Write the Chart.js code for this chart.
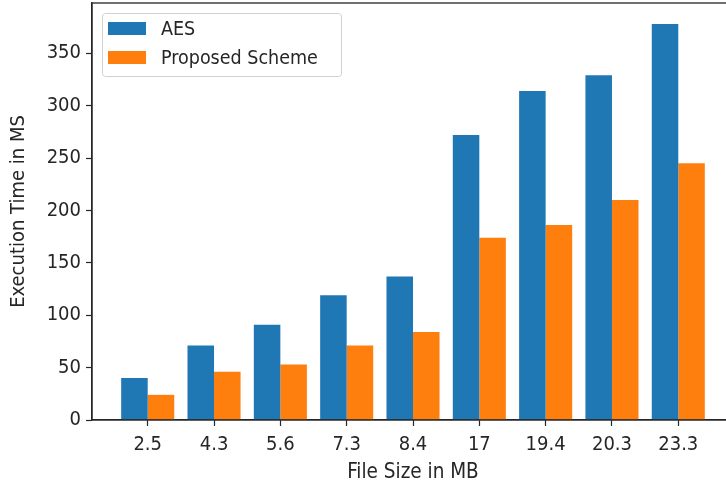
<!DOCTYPE html>
<html>
<head>
<meta charset="utf-8">
<script src="https://cdn.jsdelivr.net/npm/chart.js@4/dist/chart.umd.min.js"></script>
<style>
  html, body { margin: 0; padding: 0; background: #fff; }
  #wrap { width: 726px; height: 483px; overflow: hidden; }
</style>
</head>
<body>
<div id="wrap"><canvas id="myChart" width="740" height="483"></canvas></div>
<script>
const fileSizes = ["2.5", "4.3", "5.6", "7.3", "8.4", "17", "19.4", "20.3", "23.3"];
const aesTimes = [40, 71, 91, 119, 137, 272, 314, 329, 378];
const proposedTimes = [24, 46, 53, 71, 84, 174, 186, 210, 245];
const yTicks = [0, 50, 100, 150, 200, 250, 300, 350];

const ink = "#262626";
const family = "'DejaVu Sans Condensed', 'DejaVu Sans', sans-serif";
const font = { family: family, size: 20 };

// matplotlib-like frame plus a legend box in the upper left of the plot
const framePlugin = {
  id: "frame",
  afterDraw(chart) {
    const ctx = chart.ctx;
    const area = chart.chartArea;
    ctx.save();
    ctx.strokeStyle = ink;
    ctx.lineWidth = 1.3;
    ctx.strokeRect(area.left, area.top, area.right - area.left, area.bottom - area.top);

    const bx = area.left + 10, by = area.top + 10;
    ctx.beginPath();
    ctx.roundRect(bx + 0.5, by + 0.5, 239, 63, 3);
    ctx.fillStyle = "rgba(255,255,255,0.8)";
    ctx.fill();
    ctx.strokeStyle = "#d0d0d0";
    ctx.lineWidth = 1;
    ctx.stroke();

    ctx.font = "19.5px " + family;
    ctx.textBaseline = "middle";
    chart.data.datasets.forEach((ds, i) => {
      ctx.fillStyle = ds.backgroundColor;
      ctx.fillRect(bx + 6, by + 9 + i * 29, 38, 13);
      ctx.fillStyle = ink;
      ctx.fillText(ds.label, bx + 59, by + 17 + i * 28.5);
    });
    ctx.restore();
  }
};

const noEdgePadding = scale => {
  scale.paddingTop = 0;
  scale.paddingBottom = 0;
  scale.paddingLeft = 0;
  scale.paddingRight = 0;
};

const ctx = document.getElementById("myChart").getContext("2d");
const myBarChart = new Chart(ctx, {
  type: "bar",
  data: {
    datasets: [
      {
        label: "AES",
        data: aesTimes.map((v, i) => ({ x: i, y: v })),
        backgroundColor: "#1f77b4"
      },
      {
        label: "Proposed Scheme",
        data: proposedTimes.map((v, i) => ({ x: i, y: v })),
        backgroundColor: "#ff7f0e"
      }
    ]
  },
  options: {
    responsive: false,
    animation: false,
    devicePixelRatio: 1,
    categoryPercentage: 0.8,
    barPercentage: 1.0,
    layout: { padding: { top: 3, right: 6, left: 0, bottom: 0 } },
    plugins: {
      legend: { display: false },
      tooltip: { enabled: false }
    },
    scales: {
      x: {
        type: "linear",
        offset: false,
        min: -0.84,
        max: 8.84,
        afterBuildTicks: scale => {
          scale.ticks = fileSizes.map((_, i) => ({ value: i }));
        },
        afterFit: scale => {
          scale.height = 63;
          noEdgePadding(scale);
        },
        ticks: {
          color: ink,
          font: font,
          padding: 7,
          maxRotation: 0,
          callback: v => fileSizes[v]
        },
        grid: { offset: false, drawOnChartArea: false, tickLength: 6, color: ink, tickWidth: 1.2 },
        border: { color: ink, width: 1.3 },
        title: {
          display: true,
          text: "File Size in MB",
          color: ink,
          font: { ...font, size: 20.5, lineHeight: 1 },
          padding: { top: 6, bottom: 0 }
        }
      },
      y: {
        min: 0,
        max: 398,
        afterBuildTicks: scale => {
          scale.ticks = yTicks.map(v => ({ value: v }));
        },
        afterFit: scale => {
          scale.width = 92;
          noEdgePadding(scale);
        },
        ticks: { color: ink, font: font, padding: 5 },
        grid: { drawOnChartArea: false, tickLength: 6, color: ink, tickWidth: 1.2 },
        border: { color: ink, width: 1.3 },
        title: {
          display: true,
          text: "Execution Time in MS",
          color: ink,
          font: { ...font, lineHeight: 1 },
          padding: { top: 9, bottom: 0 }
        }
      }
    }
  },
  plugins: [framePlugin]
});
</script>
</body>
</html>
